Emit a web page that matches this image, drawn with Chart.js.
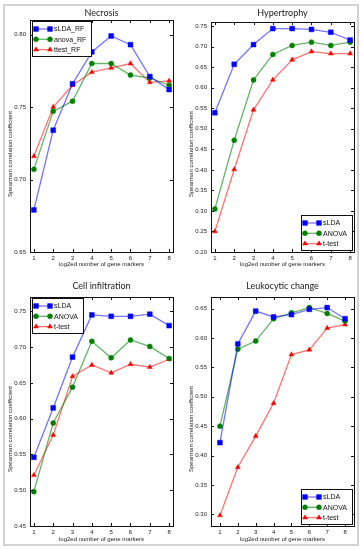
<!DOCTYPE html>
<html>
<head>
<meta charset="utf-8">
<script src="https://cdn.jsdelivr.net/npm/chart.js@4"></script>
<style>
  body { margin: 0; background: #fff; }
  #frame { position: absolute; left: 3px; top: 4px; width: 356px; height: 542px; box-sizing: border-box; border: 2px solid #d3d3d3; }
  canvas { position: absolute; }
</style>
</head>
<body>
<div id="frame"></div>
<canvas id="necrosis" style="left:0;top:0" width="181" height="275"></canvas>
<canvas id="hypertrophy" style="left:181px;top:0" width="182" height="275"></canvas>
<canvas id="infiltration" style="left:0;top:275px" width="181" height="275"></canvas>
<canvas id="leukocytic" style="left:181px;top:275px" width="182" height="275"></canvas>
<script>
// x = log2ed number of gene markers
const markers = [1, 2, 3, 4, 5, 6, 7, 8];

// Necrosis
const necrosisSLDA  = [0.679, 0.734, 0.766, 0.788, 0.799, 0.793, 0.771, 0.762];
const necrosisAnova = [0.707, 0.747, 0.754, 0.780, 0.780, 0.772, 0.770, 0.765];
const necrosisTtest = [0.716, 0.750, 0.765, 0.774, 0.777, 0.780, 0.767, 0.768];
const necrosisYTicks = [0.65, 0.70, 0.75, 0.80];

// Hypertrophy
const hyperSLDA  = [0.539, 0.657, 0.705, 0.744, 0.744, 0.742, 0.735, 0.716];
const hyperAnova = [0.305, 0.472, 0.619, 0.681, 0.703, 0.711, 0.703, 0.711];
const hyperTtest = [0.250, 0.401, 0.546, 0.619, 0.668, 0.688, 0.683, 0.683];
const hyperYTicks = [0.20, 0.25, 0.30, 0.35, 0.40, 0.45, 0.50, 0.55, 0.60, 0.65, 0.70, 0.75];

// Cell infiltration
const cellSLDA  = [0.546, 0.615, 0.686, 0.745, 0.743, 0.743, 0.746, 0.730];
const cellAnova = [0.498, 0.594, 0.644, 0.708, 0.685, 0.710, 0.701, 0.684];
const cellTtest = [0.521, 0.577, 0.659, 0.675, 0.664, 0.676, 0.672, 0.683];
const cellYTicks = [0.45, 0.50, 0.55, 0.60, 0.65, 0.70, 0.75];

// Leukocytic change
const leukoSLDA  = [0.422, 0.590, 0.646, 0.636, 0.640, 0.649, 0.652, 0.633];
const leukoAnova = [0.450, 0.581, 0.595, 0.633, 0.643, 0.652, 0.642, 0.629];
const leukoTtest = [0.298, 0.380, 0.433, 0.489, 0.572, 0.580, 0.617, 0.623];
const leukoYTicks = [0.30, 0.35, 0.40, 0.45, 0.50, 0.55, 0.60, 0.65];

const BLUE = '#0000ff', GREEN = '#008000', RED = '#ff0000';

function series(label, values, color, lineColor, style, radius) {
    return {
        label: label,
        data: markers.map((m, i) => ({ x: m, y: values[i] })),
        borderColor: lineColor,
        backgroundColor: color,
        pointBackgroundColor: color,
        pointBorderColor: color,
        pointBorderWidth: 0.5,
        pointStyle: style,
        pointRadius: radius,
        borderWidth: 1.3,
        tension: 0
    };
}

function threeSeries(names, a, b, c) {
    return [
        series(names[0], a, BLUE, 'rgba(0,0,255,0.55)', 'rect', 3.4),
        series(names[1], b, GREEN, 'rgba(0,128,0,0.6)', 'circle', 2.5),
        series(names[2], c, RED, 'rgba(255,0,0,0.55)', 'triangle', 2.8)
    ];
}

// frame, inward ticks, titles, labels and the in-axes legend (matplotlib look)
const decor = {
    id: 'decor',
    afterDraw(chart, args, opts) {
        const { ctx, chartArea: a, scales } = chart;
        const cx = (a.left + a.right) / 2;
        ctx.save();

        ctx.strokeStyle = '#111';
        ctx.lineWidth = 1;
        ctx.beginPath();
        scales.x.ticks.forEach(t => {
            const px = Math.round(scales.x.getPixelForValue(t.value)) + 0.5;
            ctx.moveTo(px, a.bottom); ctx.lineTo(px, a.bottom - 3);
            ctx.moveTo(px, a.top); ctx.lineTo(px, a.top + 3);
        });
        scales.y.ticks.forEach(t => {
            const py = Math.round(scales.y.getPixelForValue(t.value)) + 0.5;
            ctx.moveTo(a.left, py); ctx.lineTo(a.left + 3, py);
            ctx.moveTo(a.right, py); ctx.lineTo(a.right - 3, py);
        });
        ctx.stroke();
        ctx.strokeRect(Math.round(a.left) + 0.5, Math.round(a.top) + 0.5,
                       Math.round(a.right - a.left), Math.round(a.bottom - a.top));

        ctx.fillStyle = '#222';
        ctx.textAlign = 'center';
        ctx.textBaseline = 'middle';
        ctx.font = '9px Lato';
        ctx.fillText(opts.title, cx, opts.titleY);

        ctx.font = '6px "Liberation Sans"';
        ctx.fillText('log2ed number of gene markers', cx, 264);
        ctx.save();
        ctx.translate(10, 154);
        ctx.rotate(-Math.PI / 2);
        ctx.fillText('Spearman correlation coefficient', 0, 0);
        ctx.restore();

        // legend
        const sets = chart.data.datasets;
        ctx.font = '7px "Liberation Sans"';
        const tw = Math.max(...sets.map(d => ctx.measureText(d.label).width));
        const w = Math.round(22 + tw + 5), h = 35;
        let bx, by;
        if (opts.legend === 'ul') { bx = Math.round(a.left) + 2; by = Math.round(a.top) + 1; }
        else { bx = Math.round(a.right) - 2 - w; by = Math.round(a.bottom) - 2 - h; }
        ctx.fillStyle = '#fff';
        ctx.fillRect(bx + 0.5, by + 0.5, w, h);
        ctx.strokeStyle = '#111';
        ctx.strokeRect(bx + 0.5, by + 0.5, w, h);
        ctx.textAlign = 'left';
        sets.forEach((d, i) => {
            const y = by + 8 + i * 10.3;
            ctx.strokeStyle = d.borderColor;
            ctx.lineWidth = 1.3;
            ctx.beginPath();
            ctx.moveTo(bx + 4, y); ctx.lineTo(bx + 18, y);
            ctx.stroke();
            ctx.fillStyle = d.pointBackgroundColor;
            ctx.strokeStyle = d.pointBorderColor;
            ctx.lineWidth = 0.5;
            [bx + 4, bx + 18].forEach(px => {
                Chart.helpers.drawPoint(ctx, { pointStyle: d.pointStyle, radius: d.pointRadius, rotation: 0, borderWidth: 0.5 }, px, y);
            });
            ctx.fillStyle = '#111';
            ctx.fillText(d.label, bx + 22, y + 0.5);
        });
        ctx.restore();
    }
};

function makePanel(id, cfg) {
    const canvas = document.getElementById(id);
    const W = canvas.width, H = canvas.height;
    return new Chart(canvas, {
        type: 'line',
        data: { datasets: cfg.sets },
        plugins: [decor],
        options: {
            responsive: false,
            animation: false,
            devicePixelRatio: 1,
            layout: { padding: { top: cfg.top, right: W - 173, left: 0, bottom: 0 } },
            plugins: {
                legend: { display: false },
                tooltip: { enabled: false },
                decor: { title: cfg.title, titleY: cfg.titleY, legend: cfg.legend }
            },
            scales: {
                x: {
                    type: 'linear',
                    min: cfg.xMin, max: cfg.xMax,
                    afterBuildTicks: s => { s.ticks = markers.map(v => ({ value: v })); },
                    afterFit: s => { s.height = H - cfg.bottom; },
                    grid: { display: false, drawTicks: false },
                    border: { display: false },
                    ticks: { font: { size: 6, family: 'Liberation Sans' }, color: '#222', padding: 3, maxRotation: 0, autoSkip: false }
                },
                y: {
                    min: cfg.yMin, max: cfg.yMax,
                    afterBuildTicks: s => { s.ticks = cfg.yTicks.map(v => ({ value: v })); },
                    afterFit: s => { s.width = 30; },
                    grid: { display: false, drawTicks: false },
                    border: { display: false },
                    ticks: { font: { size: 6, family: 'Liberation Sans' }, color: '#222', padding: 4, autoSkip: false,
                             callback: v => v.toFixed(2) }
                }
            }
        }
    });
}

makePanel('necrosis', {
    title: 'Necrosis', titleY: 13, legend: 'ul', top: 20, bottom: 252,
    xMin: 0.8, xMax: 8.2, yMin: 0.65, yMax: 0.81, yTicks: necrosisYTicks,
    sets: threeSeries(['sLDA_RF', 'anova_RF', 'ttest_RF'], necrosisSLDA, necrosisAnova, necrosisTtest)
});
makePanel('hypertrophy', {
    title: 'Hypertrophy', titleY: 13, legend: 'lr', top: 22, bottom: 252,
    xMin: 0.8, xMax: 8.2, yMin: 0.20, yMax: 0.76, yTicks: hyperYTicks,
    sets: threeSeries(['sLDA', 'ANOVA', 't-test'], hyperSLDA, hyperAnova, hyperTtest)
});
makePanel('infiltration', {
    title: 'Cell infiltration', titleY: 11, legend: 'ul', top: 22, bottom: 251,
    xMin: 0.8, xMax: 8.2, yMin: 0.45, yMax: 0.77, yTicks: cellYTicks,
    sets: threeSeries(['sLDA', 'ANOVA', 't-test'], cellSLDA, cellAnova, cellTtest)
});
makePanel('leukocytic', {
    title: 'Leukocytic change', titleY: 11, legend: 'lr', top: 22, bottom: 251,
    xMin: 0.5, xMax: 8.5, yMin: 0.28, yMax: 0.67, yTicks: leukoYTicks,
    sets: threeSeries(['sLDA', 'ANOVA', 't-test'], leukoSLDA, leukoAnova, leukoTtest)
});
</script>
</body>
</html>
